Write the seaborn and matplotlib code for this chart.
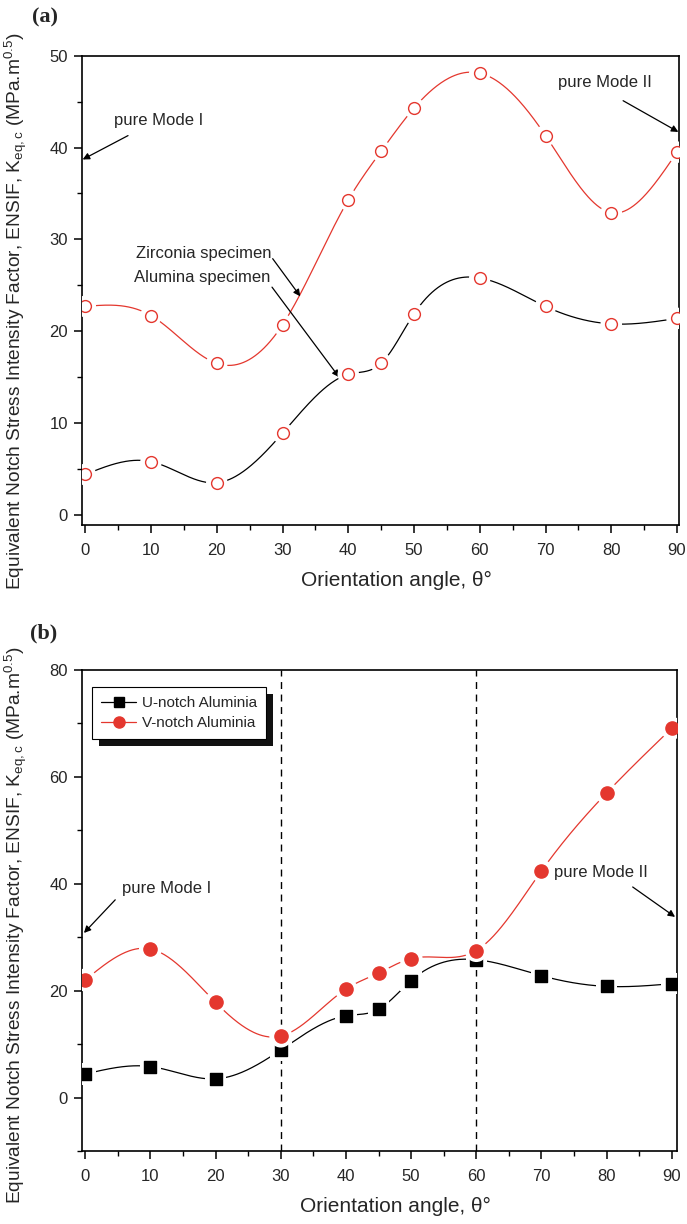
import numpy as np
import pandas as pd
import matplotlib
matplotlib.use("Agg")
import matplotlib.pyplot as plt
import seaborn as sns
from matplotlib.patches import Rectangle
from matplotlib.transforms import IdentityTransform
from matplotlib.lines import Line2D

# ---------------- data ----------------
angles = [0, 10, 20, 30, 40, 45, 50, 60, 70, 80, 90]
zirconia = [22.7, 21.7, 16.5, 20.7, 34.3, 39.6, 44.3, 48.1, 41.3, 32.9, 39.5]
alumina = [4.4, 5.8, 3.5, 8.9, 15.3, 16.5, 21.9, 25.8, 22.7, 20.8, 21.4]
u_notch = [4.4, 5.8, 3.5, 8.9, 15.3, 16.5, 21.9, 25.8, 22.8, 20.8, 21.3]
v_notch = [22.0, 27.8, 17.8, 11.5, 20.3, 23.3, 26.0, 27.5, 42.4, 57.0, 69.1]
xticks = [0, 10, 20, 30, 40, 50, 60, 70, 80, 90]
yticks_a = [0, 10, 20, 30, 40, 50]
yticks_b = [0, 20, 40, 60, 80]
vlines_b = [30, 60]

RED = "#e4372e"
FONT = ["Liberation Sans", "DejaVu Sans"]

sns.set_theme(style="ticks")
plt.rcParams["font.family"] = FONT
plt.rcParams["mathtext.fontset"] = "custom"
plt.rcParams["mathtext.rm"] = "Liberation Sans"
plt.rcParams["mathtext.it"] = "Liberation Sans:italic"
plt.rcParams["axes.unicode_minus"] = False


def natural_spline(x, y, n=600):
    x = np.asarray(x, float)
    y = np.asarray(y, float)
    k = len(x)
    h = np.diff(x)
    A = np.zeros((k, k))
    r = np.zeros(k)
    A[0, 0] = 1
    A[-1, -1] = 1
    for i in range(1, k - 1):
        A[i, i - 1] = h[i - 1]
        A[i, i] = 2 * (h[i - 1] + h[i])
        A[i, i + 1] = h[i]
        r[i] = 6 * ((y[i + 1] - y[i]) / h[i] - (y[i] - y[i - 1]) / h[i - 1])
    M = np.linalg.solve(A, r)
    xs = np.linspace(x[0], x[-1], n)
    idx = np.clip(np.searchsorted(x, xs) - 1, 0, k - 2)
    x0, x1 = x[idx], x[idx + 1]
    hh = x1 - x0
    t0 = x1 - xs
    t1 = xs - x0
    ys = (M[idx] * t0 ** 3 / (6 * hh) + M[idx + 1] * t1 ** 3 / (6 * hh)
          + (y[idx] / hh - M[idx] * hh / 6) * t0
          + (y[idx + 1] / hh - M[idx + 1] * hh / 6) * t1)
    return xs, ys


W, H = 687, 1224
fig = plt.figure(figsize=(W / 100, H / 100), dpi=100)
fig.patch.set_facecolor("white")

ax_a = fig.add_axes([82 / W, 1 - 525 / H, (679 - 82) / W, (525 - 55.7) / H])
ax_b = fig.add_axes([82 / W, 1 - 1151 / H, (677 - 82) / W, (1151 - 670) / H])


def draw_series(ax, x, y, color, marker, face, msize, edge=None, lw=0.9, z=3):
    xs, ys = natural_spline(x, y)
    sns.lineplot(x=xs, y=ys, ax=ax, color=color, lw=lw, sort=False,
                 estimator=None, zorder=z, legend=False)
    # white halo to break the line around each marker
    sns.scatterplot(x=x, y=y, ax=ax, marker=marker, s=(msize + 7) ** 2,
                    color="white", edgecolor="none", zorder=z + 1, legend=False)
    sns.scatterplot(x=x, y=y, ax=ax, marker=marker, s=msize ** 2,
                    facecolor=face, edgecolor=edge or color,
                    linewidth=1.0, zorder=z + 2, legend=False)


ARROW = dict(arrowstyle="-|>", color="black", lw=0.9, mutation_scale=10,
             shrinkA=0, shrinkB=0)

# ---------------- panel (a) ----------------
draw_series(ax_a, angles, zirconia, RED, "o", "white", 8.5, z=3)
draw_series(ax_a, angles, alumina, "black", "o", "white", 8.5, edge=RED, z=3)

ax_a.set_xlim(-0.5, 90.3)
ax_a.set_ylim(-1.1, 50)

ax_a.text(11.1, 42.9, "pure Mode I", fontsize=12, ha="center", va="center")
ax_a.annotate("", xy=(-0.4, 38.7), xytext=(6.5, 41.3), arrowprops=ARROW)
ax_a.text(79.0, 47.1, "pure Mode II", fontsize=12, ha="center", va="center")
ax_a.annotate("", xy=(90.2, 41.7), xytext=(81.8, 45.1), arrowprops=ARROW)
ax_a.text(28.3, 28.5, "Zirconia specimen", fontsize=12, ha="right", va="center")
ax_a.text(28.1, 25.9, "Alumina specimen", fontsize=12, ha="right", va="center")
ax_a.annotate("", xy=(32.7, 23.8), xytext=(28.5, 27.9), arrowprops=ARROW)
ax_a.annotate("", xy=(38.6, 15.0), xytext=(28.4, 24.8), arrowprops=ARROW)

# ---------------- panel (b) ----------------
for xv in vlines_b:
    ax_b.axvline(xv, color="black", lw=1.0, ls=(0, (5, 4)), zorder=1)

draw_series(ax_b, angles, u_notch, "black", "s", "black", 8.5, z=3)
draw_series(ax_b, angles, v_notch, RED, "o", RED, 9.5, z=6)

ax_b.set_xlim(-0.5, 90.8)
ax_b.set_ylim(-10, 80)

ax_b.text(12.5, 39.1, "pure Mode I", fontsize=12, ha="center", va="center")
ax_b.annotate("", xy=(-0.2, 30.8), xytext=(4.6, 37.0), arrowprops=ARROW)
ax_b.text(79.2, 42.2, "pure Mode II", fontsize=12, ha="center", va="center")
ax_b.annotate("", xy=(90.5, 33.8), xytext=(84.0, 39.4), arrowprops=ARROW)

# legend
handles = [Line2D([], [], color="black", lw=0.9, marker="s", ms=7, mfc="black", mec="black"),
           Line2D([], [], color=RED, lw=0.9, marker="o", ms=8, mfc=RED, mec=RED)]
leg = ax_b.legend(handles, ["U-notch Aluminia", "V-notch Aluminia"],
                  loc="upper left", bbox_to_anchor=(0.0168, 0.9646),
                  borderaxespad=0, fontsize=11, frameon=True, fancybox=False,
                  handlelength=2.3, handletextpad=0.35, borderpad=0.6,
                  labelspacing=0.38)
leg.get_frame().set_edgecolor("black")
leg.get_frame().set_linewidth(0.8)
leg.get_frame().set_facecolor("white")
leg.get_frame().set_alpha(1)
leg.set_zorder(20)

# ---------------- common styling ----------------
ylabel = r"Equivalent Notch Stress Intensity Factor, ENSIF, K$_{\mathrm{eq,c}}$ (MPa.m$^{\mathrm{0.5}}$)"
for ax, yt, minor_y, ylab_y in [(ax_a, yticks_a, np.arange(5, 50, 10), 0.456),
                                (ax_b, yticks_b, np.arange(-10, 80, 20), 0.469)]:
    ax.set_xticks(xticks)
    ax.set_xticks(np.arange(5, 90, 10), minor=True)
    ax.set_yticks(yt)
    ax.set_yticks(minor_y, minor=True)
    ax.tick_params(axis="both", which="major", direction="out", length=6, width=1.1,
                   labelsize=12, color="black", top=False, right=False)
    ax.tick_params(axis="x", which="major", pad=7)
    ax.tick_params(axis="y", which="major", pad=4)
    ax.tick_params(axis="both", which="minor", direction="out", length=3.5, width=1.0,
                   top=False, right=False, color="black")
    for sp in ax.spines.values():
        sp.set_visible(True)
        sp.set_color("black")
        sp.set_linewidth(1.2)
    ax.set_facecolor("white")
    ax.grid(False)
    ax.set_xlabel("Orientation angle, θ°", fontsize=15)
    ax.xaxis.set_label_coords(0.526, -55 / (ax.get_position().height * H))
    ax.set_ylabel(ylabel, fontsize=13.8)
    ax.yaxis.set_label_coords(-66 / (ax.get_position().width * W), ylab_y)
    ax.xaxis.label.set_va("center")
    ax.yaxis.label.set_va("center")

fig.text(32 / W, 1 - 17 / H, "(a)", fontsize=16, fontweight="bold",
         family=["Liberation Serif", "DejaVu Serif"], ha="left", va="center")
fig.text(30 / W, 1 - 633 / H, "(b)", fontsize=16, fontweight="bold",
         family=["Liberation Serif", "DejaVu Serif"], ha="left", va="center")

# legend shadow (solid black, offset)
fig.canvas.draw()
bb = leg.get_window_extent()
shadow = Rectangle((bb.x0 + 7, bb.y0 - 7), bb.width, bb.height,
                   transform=IdentityTransform(), facecolor="#111111",
                   edgecolor="none", zorder=19, clip_on=False)
ax_b.add_artist(shadow)

fig.savefig("out.png", dpi=100, facecolor="white")
